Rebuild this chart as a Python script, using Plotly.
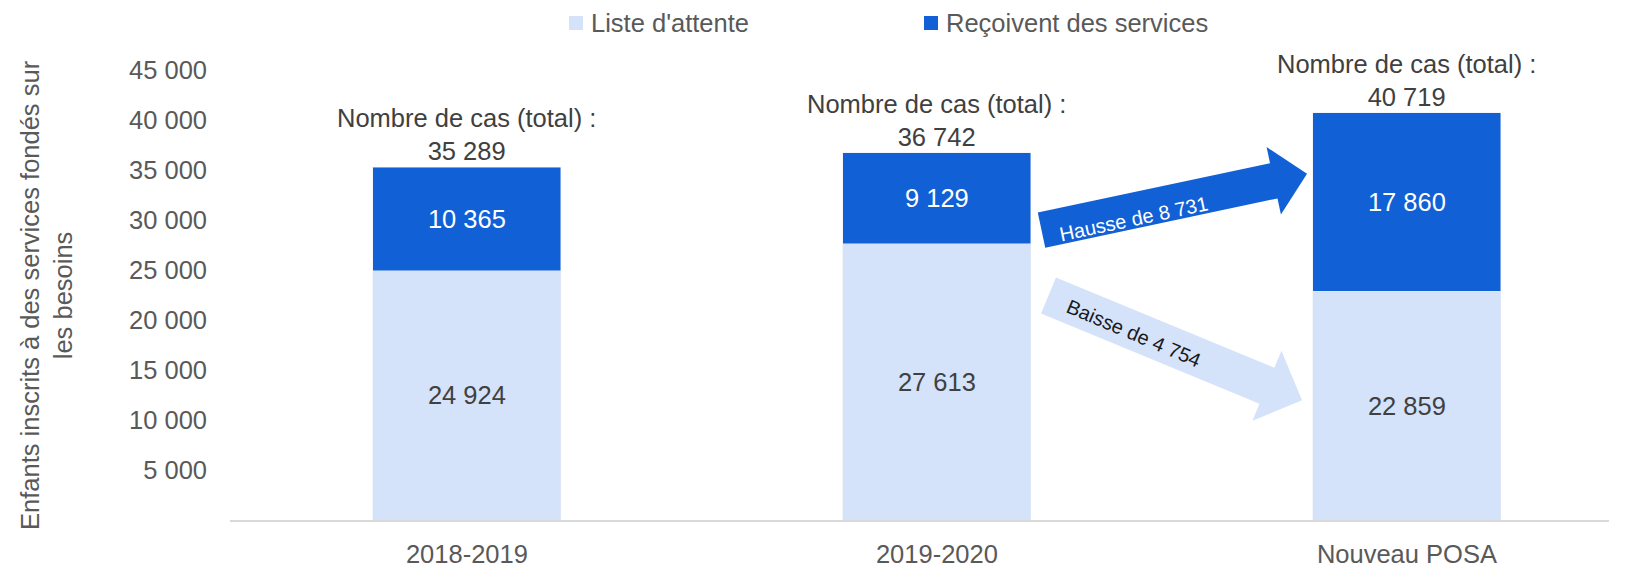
import math
import plotly.graph_objects as go

# ---------------- data ----------------
categories = ["2018-2019", "2019-2020", "Nouveau POSA"]
liste_attente = [24924, 27613, 22859]
recoivent = [10365, 9129, 17860]
totals = [35289, 36742, 40719]
y_tick_vals = [5000, 10000, 15000, 20000, 25000, 30000, 35000, 40000, 45000]
series_names = ["Liste d'attente", "Reçoivent des services"]

hausse_label = "Hausse de 8 731"
baisse_label = "Baisse de 4 754"

# ---------------- style ----------------
W, H = 1628, 569
ML, MR, MT, MB = 230, 19, 70, 49
X_RANGE = [-0.504, 2.43]
Y_RANGE = [0, 45000]
BAR_W = 0.4
LIGHT = "#D5E3FA"
DARK = "#1160D5"
GREY = "#595959"
DGREY = "#404040"
FONT = "Liberation Sans, Arial, sans-serif"
FS = 25.5

plot_w = W - ML - MR
plot_h = H - MT - MB

def px_to_paper_x(px):
    return (px - ML) / plot_w

def px_to_paper_y(py):
    return 1 + (MT - py) / plot_h

x_pos = list(range(len(categories)))

fig = go.Figure()
fig.add_trace(go.Bar(
    x=x_pos, y=liste_attente, name=series_names[0], marker_color=LIGHT,
    width=BAR_W, texttemplate="%{y:,}",
    textposition="inside", insidetextanchor="middle", textangle=0,
    insidetextfont=dict(color=DGREY, size=FS, family=FONT), constraintext="none",
    showlegend=False))
fig.add_trace(go.Bar(
    x=x_pos, y=recoivent, name=series_names[1], marker_color=DARK,
    width=BAR_W, texttemplate="%{y:,}",
    textposition="inside", insidetextanchor="middle", textangle=0,
    insidetextfont=dict(color="white", size=FS, family=FONT), constraintext="none",
    showlegend=False))

def fmt(v):
    return f"{v:,}".replace(",", " ")

annotations = []
shapes = []
for xi, t in zip(x_pos, totals):
    annotations.append(dict(
        x=xi, y=t, xref="x", yref="y", text=f"Nombre de cas (total) :<br>{fmt(t)}",
        showarrow=False, yanchor="bottom", xanchor="center", yshift=0,
        font=dict(size=FS, color=DGREY, family=FONT)))

# y-axis title as rotated annotation
annotations.append(dict(
    x=px_to_paper_x(46), y=0.5, xref="paper", yref="paper",
    text="Enfants inscrits à des services fondés sur<br>les besoins",
    textangle=-90, showarrow=False, xanchor="center", yanchor="middle",
    font=dict(size=FS, color=GREY, family=FONT)))

# ---------------- manual legend ----------------
legend_sq_left = [569, 924]   # px
legend_cy = 23
SQ = 14
for name, col, left in zip(series_names, [LIGHT, DARK], legend_sq_left):
    shapes.append(dict(type="rect", xref="paper", yref="paper",
                       x0=px_to_paper_x(left), x1=px_to_paper_x(left + SQ),
                       y0=px_to_paper_y(legend_cy + SQ / 2), y1=px_to_paper_y(legend_cy - SQ / 2),
                       fillcolor=col, line=dict(width=0)))
    annotations.append(dict(x=px_to_paper_x(left + SQ + 6), y=px_to_paper_y(legend_cy),
                            xref="paper", yref="paper", text=name, showarrow=False,
                            xanchor="left", yanchor="middle",
                            font=dict(size=FS, color=GREY, family=FONT)))

# ---------------- arrows ----------------
ppx = plot_w / (X_RANGE[1] - X_RANGE[0])
ppy = plot_h / (Y_RANGE[1] - Y_RANGE[0])

def arrow_path(tail, tip, shaft, head_w, head_len):
    tx, ty = tail[0] * ppx, tail[1] * ppy
    hx, hy = tip[0] * ppx, tip[1] * ppy
    dx, dy = hx - tx, hy - ty
    L = math.hypot(dx, dy)
    ux, uy = dx / L, dy / L
    nx, ny = -uy, ux
    bx, by = hx - ux * head_len, hy - uy * head_len
    pts = [
        (tx + nx * shaft / 2, ty + ny * shaft / 2),
        (bx + nx * shaft / 2, by + ny * shaft / 2),
        (bx + nx * head_w / 2, by + ny * head_w / 2),
        (hx, hy),
        (bx - nx * head_w / 2, by - ny * head_w / 2),
        (bx - nx * shaft / 2, by - ny * shaft / 2),
        (tx - nx * shaft / 2, ty - ny * shaft / 2),
    ]
    return "M " + " L ".join(f"{px / ppx:.5f},{py / ppy:.2f}" for px, py in pts) + " Z"

arrows = [
    dict(tail=(1.2226, 28986), tip=(1.7875, 34624), shaft=36, head_w=69, head_len=34,
         color=DARK, label=hausse_label, lpos=(1.4173, 30134), angle=-12, lcolor="white"),
    dict(tail=(1.2375, 22451), tip=(1.7769, 11974), shaft=39, head_w=76, head_len=38,
         color=LIGHT, label=baisse_label, lpos=(1.4173, 18659), angle=23, lcolor="#1a1a1a"),
]
for a in arrows:
    shapes.append(dict(type="path", xref="x", yref="y",
                       path=arrow_path(a["tail"], a["tip"], a["shaft"], a["head_w"], a["head_len"]),
                       fillcolor=a["color"], line=dict(width=0), layer="above"))
    annotations.append(dict(x=a["lpos"][0], y=a["lpos"][1], xref="x", yref="y",
                            text=a["label"], textangle=a["angle"], showarrow=False,
                            xanchor="center", yanchor="middle",
                            font=dict(size=20, color=a["lcolor"], family=FONT)))

fig.update_layout(
    width=W, height=H, autosize=False,
    margin=dict(l=ML, r=MR, t=MT, b=MB, autoexpand=False),
    barmode="stack", separators=", ",
    plot_bgcolor="white", paper_bgcolor="white",
    font=dict(family=FONT, size=FS, color=GREY),
    showlegend=False,
    xaxis=dict(range=X_RANGE, tickvals=x_pos, ticktext=categories, showgrid=False,
               zeroline=False, showline=True, linecolor="#D9D9D9", linewidth=1.5,
               ticks="", ticklabelstandoff=11, automargin=False,
               tickfont=dict(size=FS, color=GREY, family=FONT)),
    yaxis=dict(range=Y_RANGE, tickvals=y_tick_vals, tickformat=",", showgrid=False,
               zeroline=False, showline=False, ticks="", ticklabelstandoff=22,
               automargin=False,
               tickfont=dict(size=FS, color=GREY, family=FONT)),
    annotations=annotations, shapes=shapes,
)

fig.write_html("out.html", config={"displayModeBar": False},
               post_script="document.body.style.margin='0';document.body.style.overflow='hidden';")
